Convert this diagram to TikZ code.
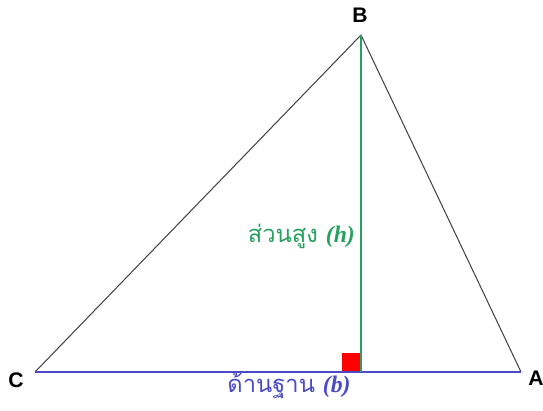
\documentclass[tikz,border=0pt]{standalone}
\usepackage{fontspec}
\setmainfont{Liberation Serif}
\setsansfont{Liberation Sans}
\newfontfamily\thaifont[Script=Thai]{Loma}
\usetikzlibrary{positioning}

\definecolor{altgreen}{RGB}{40,160,95}
\definecolor{baseblue}{RGB}{75,75,200}
\definecolor{edgegray}{RGB}{70,70,70}

\newcommand{\symlabel}[1]{{\rmfamily\bfseries\itshape (#1)}}

\tikzset{
  vertexlabel/.style={font=\sffamily\bfseries\fontsize{12}{14}\selectfont, inner sep=1pt},
  thaitext/.style={font=\thaifont\fontsize{13.5}{15}\selectfont, inner sep=1pt}
}

\begin{document}
\begin{tikzpicture}[x=0.02cm, y=-0.02cm]
            \useasboundingbox (0,0) rectangle (543,411);
            % Vertices
            \coordinate (C) at (35,372);
            \coordinate (A) at (521,372);
            \coordinate (B) at (361,35);
            \coordinate (H) at (361,372);
            
            % Right angle mark
            \fill[red] (H) rectangle ++(-19,-19);
            
            % Sides
            \draw[edgegray, semithick] (C) -- (B) -- (A);
            \draw[baseblue, thick] (C) -- (A);
            
            % Height
            \draw[altgreen, thick] (B) -- (H);
            
            % Labels
            \node[vertexlabel] (lc) at (16,380) {C};
            \node[vertexlabel] (la) at (536,378) {A};
            \node[vertexlabel] (lb) at (360,15) {B};
            \node[thaitext, text=altgreen, anchor=east] (lh) at (357,236) {ส่วนสูง \symlabel{h}};
            \node[thaitext, text=baseblue] (lbase) at (289,386) {ด้านฐาน \symlabel{b}};
        \end{tikzpicture}
\end{document}
